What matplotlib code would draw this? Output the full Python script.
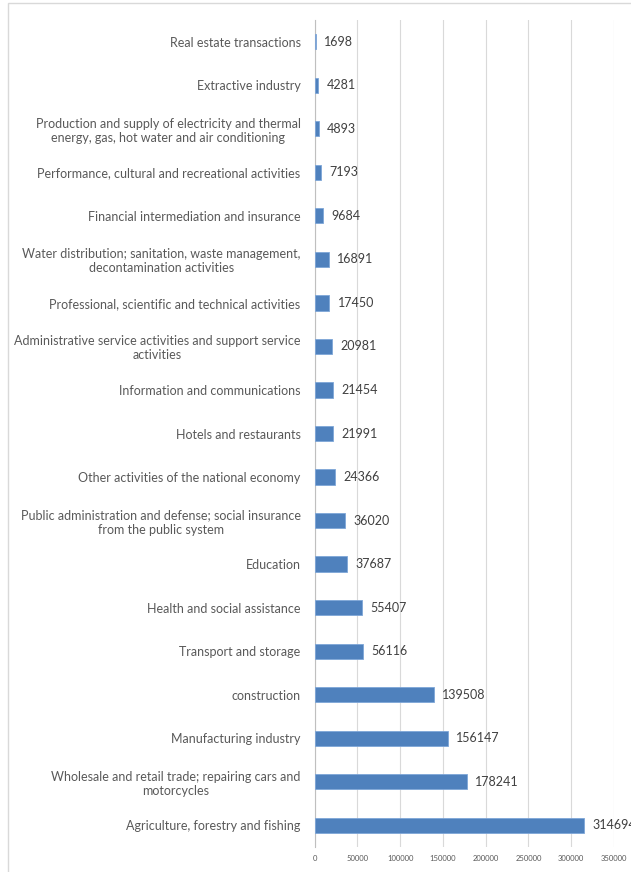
import matplotlib.pyplot as plt
from matplotlib.patches import Rectangle

# employees by activity, listed bottom to top
sectors = [
    "Agriculture, forestry and fishing",
    "Wholesale and retail trade; repairing cars and\nmotorcycles",
    "Manufacturing industry",
    "construction",
    "Transport and storage",
    "Health and social assistance",
    "Education",
    "Public administration and defense; social insurance\nfrom the public system",
    "Other activities of the national economy",
    "Hotels and restaurants",
    "Information and communications",
    "Administrative service activities and support service\nactivities",
    "Professional, scientific and technical activities",
    "Water distribution; sanitation, waste management,\ndecontamination activities",
    "Financial intermediation and insurance",
    "Performance, cultural and recreational activities",
    "Production and supply of electricity and thermal\nenergy, gas, hot water and air conditioning",
    "Extractive industry",
    "Real estate transactions",
]
employees = [314694, 178241, 156147, 139508, 56116, 55407, 37687, 36020, 24366,
             21991, 21454, 20981, 17450, 16891, 9684, 7193, 4893, 4281, 1698]
xticks = [0, 50000, 100000, 150000, 200000, 250000, 300000, 350000]

plt.rcParams['font.family'] = ['Lato', 'DejaVu Sans']

W, H = 631, 872
fig = plt.figure(figsize=(W / 100, H / 100), dpi=100)

# chart frame (partly cut off on the right and bottom)
fig.patches.append(Rectangle((8 / W, -0.1), 1.2, 1 - 3 / H + 0.1,
                             transform=fig.transFigure, fill=False,
                             edgecolor='#d9d9d9', linewidth=1))

x0, x1, y0, y1 = 314.5, 614, 20, 847
ax = fig.add_axes([x0 / W, 1 - y1 / H, (x1 - x0) / W, (y1 - y0) / H])

pos = list(range(len(sectors)))
ax.barh(pos, employees, height=0.35, color='#4f81bd', edgecolor='#7ea6d8',
        linewidth=0.6, zorder=3)
for p, v in zip(pos, employees):
    ax.annotate(str(v), (v, p), xytext=(6, 0), textcoords='offset points',
                va='center', ha='left', fontsize=9, color='#404040',
                annotation_clip=False, clip_on=False)

ax.set_xlim(0, 350000)
ax.set_ylim(-0.5, len(sectors) - 0.5)
ax.set_xticks(xticks)
ax.set_xticklabels([str(t) for t in xticks], fontsize=5.5, color='#595959')
ax.set_yticks(pos)
ax.set_yticklabels(sectors, fontsize=9, color='#595959', multialignment='center')
ax.tick_params(axis='x', length=0, pad=6)
ax.tick_params(axis='y', length=0, pad=10)
ax.grid(axis='x', color='#d9d9d9', linewidth=0.8, zorder=0)
for s in ['top', 'right', 'bottom']:
    ax.spines[s].set_visible(False)
ax.spines['left'].set_color('#bfbfbf')
ax.spines['left'].set_linewidth(0.8)

fig.savefig('out.png', dpi=100)
